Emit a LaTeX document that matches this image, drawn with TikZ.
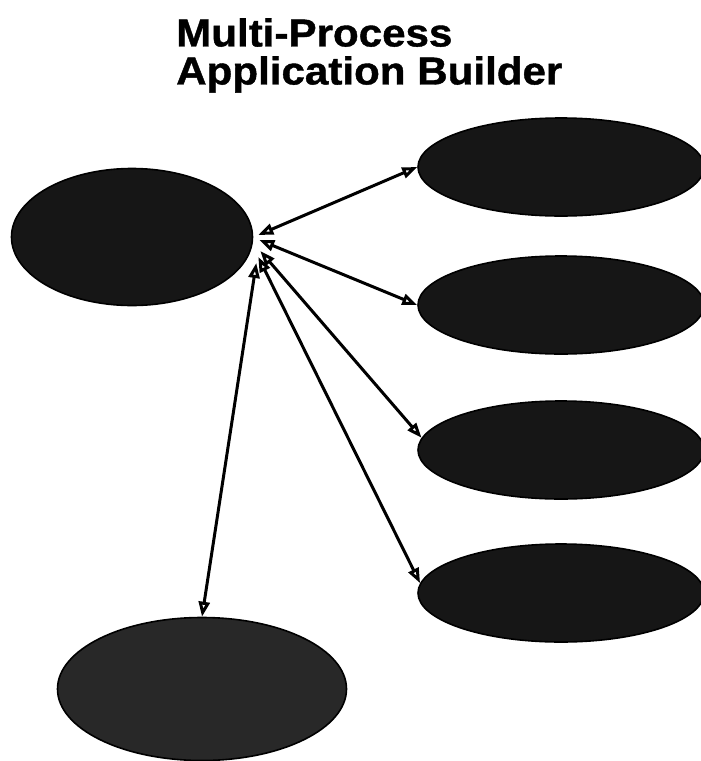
\documentclass[tikz,border=0pt]{standalone}
\usepackage{fontspec}
\usepackage{tikz}
\usetikzlibrary{shapes.geometric, arrows.meta, positioning}
\newfontfamily\titlefont{Liberation Sans}[BoldFeatures={FakeBold=1}]
\definecolor{blobdark}{RGB}{22,22,22}
\definecolor{blobgray}{RGB}{40,40,40}
\tikzset{
  proc/.style={ellipse, draw=black, fill=blobdark, inner sep=0pt,
    line width=1.6pt},
  mainproc/.style={proc, minimum width=241pt, minimum height=137pt},
  sideproc/.style={proc, minimum width=286pt, minimum height=98pt},
  toolproc/.style={proc, fill=blobgray, minimum width=289pt, minimum height=143pt},
  link/.style={{Triangle[open,length=15pt,width=11pt]}-{Triangle[open,length=15pt,width=11pt]},
    line width=3pt, color=black}
}

\begin{document}
\begin{tikzpicture}[x=1pt, y=-1pt]
  \useasboundingbox (0,0) rectangle (701,761);

  % Title
  \node[anchor=north west, inner sep=0pt, align=left, xscale=1.08,
    font=\titlefont\bfseries\fontsize{39}{38}\selectfont] (title) at (176,18)
    {Multi-Process\\Application Builder};

  % --- Processes ---
  \node[mainproc] (builder) at (132,237) {};
  \node[sideproc] (procA) at (561,167) {};
  \node[sideproc] (procB) at (561,305) {};
  \node[sideproc] (procC) at (561,450) {};
  \node[sideproc] (procD) at (561,593) {};
  \node[toolproc] (tool) at (202,689) {};

  % --- Links ---
  \draw[link] ([shift={(5,-2)}]builder.east) -- (procA.west);
  \draw[link] ([shift={(6,3)}]builder.east) -- (procB.west);
  \draw[link] ([shift={(7,14)}]builder.east) -- (procC.175);
  \draw[link] ([shift={(5,20)}]builder.east) -- (procD.176);
  \draw[link] ([shift={(3,26)}]builder.east) -- (tool.north);
\end{tikzpicture}
\end{document}
